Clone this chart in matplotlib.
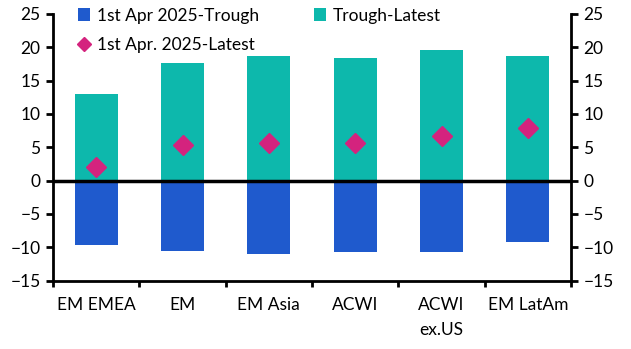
import matplotlib
matplotlib.use("Agg")
import matplotlib.pyplot as plt
import numpy as np

categories = ["EM EMEA", "EM", "EM Asia", "ACWI", "ACWI\nex.US", "EM LatAm"]
apr_to_trough = [-9.7, -10.5, -11.0, -10.7, -10.7, -9.2]
trough_to_latest = [13.0, 17.7, 18.7, 18.4, 19.6, 18.7]
apr_to_latest = [2.1, 5.3, 5.7, 5.7, 6.7, 7.9]

BLUE = "#1F5ACD"
TEAL = "#0DB8AC"
PINK = "#D4237E"

plt.rcParams["font.family"] = ["Lato", "DejaVu Sans"]
plt.rcParams["font.size"] = 12.5

fig = plt.figure(figsize=(6.31, 3.49), dpi=100)
ax = fig.add_axes([53/631, 1 - 280.5/349, (571-53)/631, (280.5-14)/349])

x = np.arange(len(categories))
b1 = ax.bar(x, apr_to_trough, width=0.5, color=BLUE, label="1st Apr 2025-Trough", zorder=2)
b2 = ax.bar(x, trough_to_latest, width=0.5, color=TEAL, label="Trough-Latest", zorder=2)
d, = ax.plot(x, apr_to_latest, linestyle="none", marker="D", ms=10.5, color=PINK,
             label="1st Apr. 2025-Latest", zorder=4)
ax.axhline(0, color="black", lw=2.5, zorder=3)

ax.set_xlim(-0.5, len(categories) - 0.5)
ax.set_ylim(-15, 25)
ax.set_yticks(np.arange(-15, 26, 5))

ax.spines["top"].set_visible(False)
for s in ["left", "right", "bottom"]:
    ax.spines[s].set_linewidth(2)

ax.tick_params(axis="y", which="major", direction="out", length=5, width=2,
               left=True, right=True, labelleft=True, labelright=True, pad=4)
ax.set_xticks(np.arange(-0.5, len(categories), 1.0))
ax.set_xticklabels([])
ax.tick_params(axis="x", which="major", direction="out", length=4, width=2)
ax.set_xticks(x, minor=True)
ax.set_xticklabels(categories, minor=True, linespacing=1.7)
ax.tick_params(axis="x", which="minor", length=0, pad=12)

leg = ax.legend(handles=[b1, d, b2], ncol=2, frameon=False, loc="upper left",
                bbox_to_anchor=(0.035, 1.05), handlelength=0.7, handleheight=0.7,
                handletextpad=0.4, columnspacing=3.15, labelspacing=0.75,
                borderaxespad=0, markerscale=0.65)

fig.savefig("out.png", dpi=100)
